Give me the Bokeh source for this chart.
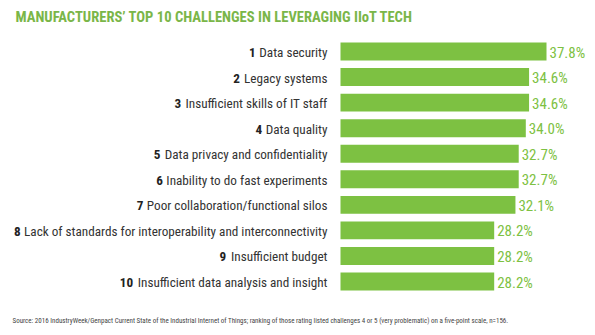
from bokeh.plotting import figure
from bokeh.models import Range1d, Label, ColumnDataSource
from bokeh.core.properties import value
from bokeh.embed import file_html
from bokeh.resources import INLINE

title = "MANUFACTURERS\u2019 TOP 10 CHALLENGES IN LEVERAGING IIoT TECH"
ranks = [1, 2, 3, 4, 5, 6, 7, 8, 9, 10]
challenges = [
    "Data security",
    "Legacy systems",
    "Insufficient skills of IT staff",
    "Data quality",
    "Data privacy and confidentiality",
    "Inability to do fast experiments",
    "Poor collaboration/functional silos",
    "Lack of standards for interoperability and interconnectivity",
    "Insufficient budget",
    "Insufficient data analysis and insight",
]
percents = [37.8, 34.6, 34.6, 34.0, 32.7, 32.7, 32.1, 28.2, 28.2, 28.2]
source_note = ("Source: 2016 IndustryWeek/Genpact Current State of the Industrial Internet of Things; "
               "ranking of those rating listed challenges 4 or 5 (very problematic) on a five-point scale, n=156.")

FONT = "Roboto Condensed"
GREEN = "#7dc142"
LBL_SIZE = 13.2

# approximate Roboto advance widths (per 2048 em); condensed ~0.91 of these
W = {' ': 507, 'a': 1087, 'b': 1120, 'c': 1045, 'd': 1125, 'e': 1058, 'f': 693, 'g': 1120, 'h': 1100,
     'i': 485, 'j': 477, 'k': 1012, 'l': 485, 'm': 1751, 'n': 1102, 'o': 1139, 'p': 1120, 'q': 1128,
     'r': 676, 's': 1032, 't': 653, 'u': 1100, 'v': 967, 'w': 1502, 'x': 989, 'y': 945, 'z': 989,
     '/': 824, 'D': 1344, 'L': 1076, 'I': 565, 'P': 1292, 'T': 1222}


def text_width(s, size):
    return sum(W.get(c, 1100) for c in s) / 2048.0 * 0.91 * size


W_PX, H_PX = 595, 335
px_per_unit = 5.45
bar_left_px = 340
x_start = -bar_left_px / px_per_unit
x_end = (W_PX - bar_left_px) / px_per_unit
pitch = 25.56
first_center = 51
y_top = 1 - first_center / pitch
y_bottom = 1 + (H_PX - first_center) / pitch

p = figure(width=W_PX, height=H_PX, output_backend="svg", toolbar_location=None,
           x_range=Range1d(x_start, x_end), y_range=Range1d(y_bottom, y_top),
           min_border=0, outline_line_color=None)
p.axis.visible = False
p.grid.visible = False
p.background_fill_color = "white"
p.border_fill_color = "white"

labels_pct = [f"{v:.1f}%" for v in percents]
num_offsets = [-13 - text_width(c, LBL_SIZE) - 3.5 for c in challenges]
src = ColumnDataSource(dict(rank=ranks, pct=percents, ch=challenges, num=[str(r) for r in ranks],
                            pl=labels_pct, zero=[0] * len(ranks), noff=num_offsets))

p.hbar(y="rank", left=0, right="pct", height=0.70, source=src, fill_color=GREEN, line_color=None)

p.text(x="zero", y="rank", text="ch", source=src, text_align="right", text_baseline="middle",
       x_offset=-13, y_offset=1, text_font=value(FONT), text_font_size=f"{LBL_SIZE}px", text_color="#333333")
p.text(x="zero", y="rank", text="num", source=src, text_align="right", text_baseline="middle",
       x_offset="noff", y_offset=1, text_font=value(FONT), text_font_style="bold",
       text_font_size=f"{LBL_SIZE}px", text_color="#222222")
p.text(x="pct", y="rank", text="pl", source=src, text_align="left", text_baseline="middle",
       x_offset=3, y_offset=1, text_font=value(FONT), text_font_size="15px", text_color=GREEN)

p.add_layout(Label(x=15, y=H_PX - 25, x_units="screen", y_units="screen", text=title,
                   text_font=FONT, text_font_style="bold", text_font_size="14.6px", text_color="#7ab648"))
p.add_layout(Label(x=12, y=H_PX - 320, x_units="screen", y_units="screen", text=source_note,
                   text_font=FONT, text_font_size="7px", text_color="#444444", text_baseline="middle"))

open("out.html", "w").write(file_html(p, INLINE))
